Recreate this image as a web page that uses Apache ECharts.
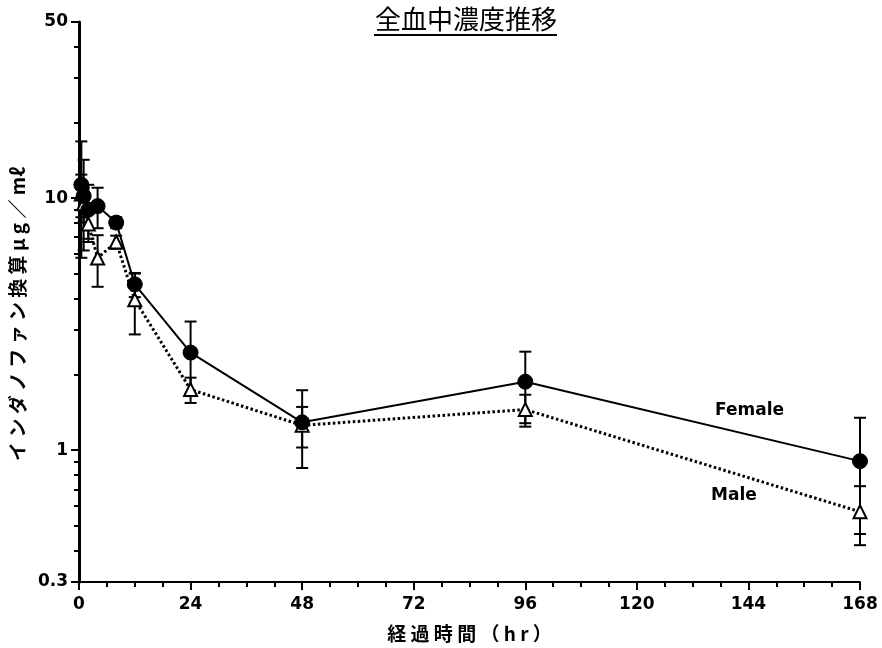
<!DOCTYPE html>
<html><head><meta charset="utf-8">
<script src="https://cdn.jsdelivr.net/npm/echarts@6/dist/echarts.min.js"></script>
<style>html,body{margin:0;padding:0;background:#fff}#c{width:882px;height:648px}</style>
</head><body><div id="c"></div>
<script>
// ---- data ----
const times = [0.5, 1, 2, 4, 8, 12, 24, 48, 96, 168];
const femaleMean = [11.3, 10.2, 9.0, 9.3, 8.0, 4.55, 2.44, 1.29, 1.87, 0.905];
const femaleSD   = [5.5, 4.0, 2.3, 1.7, 0.4, 0.5, 0.8, 0.44, 0.59, 0.44];
const maleMean   = [10.4, 9.5, 7.9, 5.79, 6.7, 3.95, 1.74, 1.255, 1.45, 0.57];
const maleSD     = [2.0, 1.5, 1.0, 1.34, 0.4, 1.07, 0.2, 0.23, 0.21, 0.15];
const yMajorTicks = [0.3, 1, 10, 50];
const yMinorTicks = [0.4, 0.5, 0.6, 0.7, 0.8, 0.9, 2, 3, 4, 5, 6, 7, 8, 9, 20, 30, 40];
const xTicks = { min: 0, max: 168, step: 24 };
const titleText = '全血中濃度推移';
const xName = '経 過 時 間 （ h r ）';
const yName = 'イ ン ダ ノ フ ァ ン 換 算 μ g ／ mℓ';
const seriesNames = ['Female', 'Male'];

const chart = echarts.init(document.getElementById('c'));
const FONT = '"DejaVu Sans", sans-serif';
const CJK = '"Noto Sans CJK JP", sans-serif';

function errSeries(name, means, sds) {
  return {
    type: 'custom', name: name + ' SD', z: 3,
    data: times.map((t, i) => [t, means[i] - sds[i], means[i] + sds[i]]),
    encode: { x: 0, y: [1, 2] },
    renderItem(params, api) {
      const x = api.value(0);
      const lo = api.coord([x, api.value(1)]);
      const hi = api.coord([x, api.value(2)]);
      const w = 6;
      const style = { stroke: '#000', lineWidth: 2, fill: null };
      return { type: 'group', children: [
        { type: 'line', shape: { x1: lo[0], y1: lo[1], x2: hi[0], y2: hi[1] }, style },
        { type: 'line', shape: { x1: lo[0] - w, y1: lo[1], x2: lo[0] + w, y2: lo[1] }, style },
        { type: 'line', shape: { x1: hi[0] - w, y1: hi[1], x2: hi[0] + w, y2: hi[1] }, style }
      ]};
    }
  };
}

const fmt = v => String(+(+v).toPrecision(3));

chart.setOption({
  animation: false,
  backgroundColor: '#fff',
  grid: { left: 75, right: 22, top: 22, bottom: 65 },
  xAxis: {
    type: 'value', min: xTicks.min, max: xTicks.max, interval: xTicks.step,
    name: xName, nameLocation: 'middle', nameGap: 42,
    nameTextStyle: { fontFamily: CJK, fontSize: 19, fontWeight: 'bold', color: '#000' },
    axisLine: { lineStyle: { color: '#000', width: 2 } },
    axisTick: { inside: false, length: 8, lineStyle: { color: '#000', width: 2 } },
    minorTick: { show: true, splitNumber: 4, length: 5, lineStyle: { color: '#000', width: 2 } },
    axisLabel: { color: '#000', fontFamily: FONT, fontWeight: 'bold', fontSize: 17, margin: 14 },
    splitLine: { show: false }
  },
  yAxis: [{
    type: 'log', logBase: 10, min: 0.3, max: 50,
    name: yName, nameLocation: 'middle', nameGap: 52, nameRotate: 90,
    nameTextStyle: { fontFamily: CJK, fontSize: 19, fontWeight: 'bold', color: '#000', padding: [0, 24, 0, 0] },
    axisLine: { onZero: false, lineStyle: { color: '#000', width: 3 } },
    axisTick: { inside: false, length: 8, customValues: yMajorTicks, lineStyle: { color: '#000', width: 2 } },
    axisLabel: { customValues: yMajorTicks, formatter: fmt, color: '#000', fontFamily: FONT, fontWeight: 'bold', fontSize: 17, margin: 11 },
    splitLine: { show: false }
  }, {
    type: 'log', logBase: 10, min: 0.3, max: 50, position: 'left',
    axisLine: { show: false },
    axisTick: { inside: false, length: 5, customValues: yMinorTicks, lineStyle: { color: '#000', width: 2 } },
    axisLabel: { show: false },
    splitLine: { show: false }
  }],
  series: [
    errSeries(seriesNames[0], femaleMean, femaleSD),
    errSeries(seriesNames[1], maleMean, maleSD),
    {
      type: 'line', name: seriesNames[1], z: 4,
      data: times.map((t, i) => [t, maleMean[i]]),
      symbol: 'triangle', symbolSize: 13,
      itemStyle: { color: '#fff', borderColor: '#000', borderWidth: 2 },
      lineStyle: { color: '#000', width: 3, type: [2.5, 2.5] }
    },
    {
      type: 'line', name: seriesNames[0], z: 5,
      data: times.map((t, i) => [t, femaleMean[i]]),
      symbol: 'circle', symbolSize: 15,
      itemStyle: { color: '#000', borderColor: '#000' },
      lineStyle: { color: '#000', width: 2 }
    }
  ],
  graphic: [
    { type: 'text', left: 375, top: 6, style: { text: titleText, font: '26px "Noto Sans CJK JP"', fill: '#000' } },
    { type: 'line', shape: { x1: 374, y1: 35, x2: 557, y2: 35 }, style: { stroke: '#000', lineWidth: 2 } },
    { type: 'text', left: 715, top: 402, style: { text: seriesNames[0], font: 'bold 17px "DejaVu Sans"', fill: '#000' } },
    { type: 'text', left: 711, top: 487, style: { text: seriesNames[1], font: 'bold 17px "DejaVu Sans"', fill: '#000' } }
  ]
});
</script></body></html>
